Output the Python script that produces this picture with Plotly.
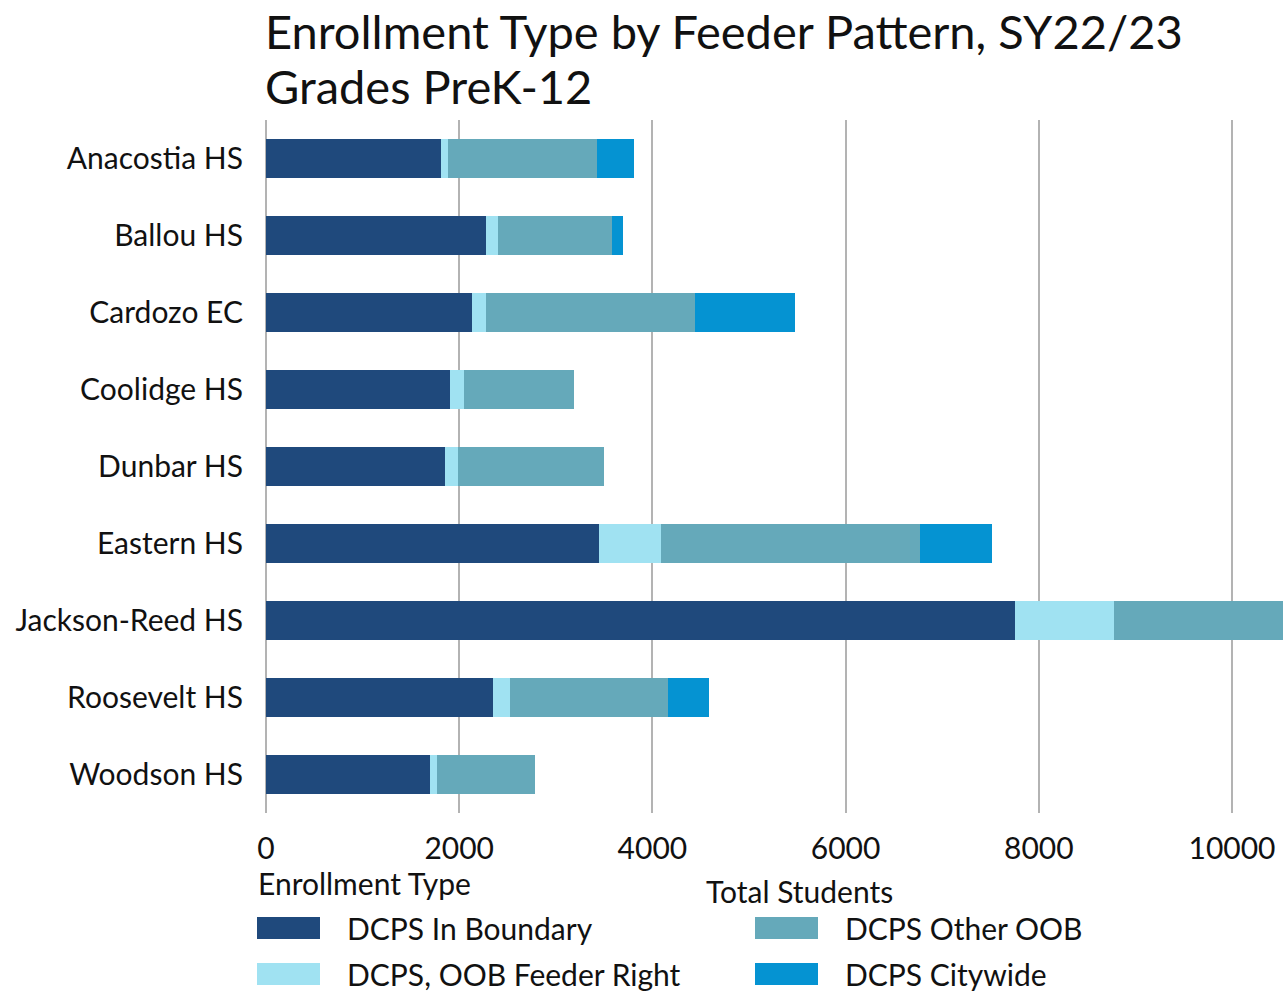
import plotly.graph_objects as go

schools = ["Anacostia HS", "Ballou HS", "Cardozo EC", "Coolidge HS", "Dunbar HS",
           "Eastern HS", "Jackson-Reed HS", "Roosevelt HS", "Woodson HS"]
in_boundary = [1810, 2280, 2135, 1900, 1850, 3450, 7750, 2350, 1700]
oob_feeder_right = [75, 120, 140, 150, 135, 640, 1025, 175, 65]
other_oob = [1540, 1180, 2170, 1140, 1510, 2680, 1755, 1635, 1020]
citywide = [385, 115, 1035, 0, 0, 745, 0, 430, 0]

series_names = ["DCPS In Boundary", "DCPS, OOB Feeder Right", "DCPS Other OOB", "DCPS Citywide"]
series_values = [in_boundary, oob_feeder_right, other_oob, citywide]
series_colors = ["#1F497C", "#A0E2F2", "#65A9BA", "#0593D2"]
title_lines = ["Enrollment Type by Feeder Pattern, SY22/23", "Grades PreK-12"]

FONT = "Lato"
W, H = 1288, 991
L, R, T, B = 266, 0, 120, 178
pw, ph = W - L - R, H - T - B

fig = go.Figure()
for name, vals, col in zip(series_names, series_values, series_colors):
    fig.add_trace(go.Bar(
        y=schools, x=vals, name=name, orientation="h",
        marker=dict(color=col, line=dict(width=0)),
        width=0.5, showlegend=False,
    ))

def px_x(px):
    return (px - L) / pw

def px_y(py):
    return (H - B - py) / ph

annotations = []
for line, cy in zip(title_lines, [31, 86]):
    annotations.append(dict(text=line, x=px_x(263), y=px_y(cy), xref="paper", yref="paper",
                            xanchor="left", yanchor="middle", showarrow=False,
                            font=dict(family=FONT, size=47, color="#111")))
annotations += [
    dict(text="Enrollment Type", x=px_x(256), y=px_y(883), xref="paper", yref="paper",
         xanchor="left", yanchor="middle", showarrow=False,
         font=dict(family=FONT, size=30, color="#111")),
    dict(text="Total Students", x=px_x(799), y=px_y(891), xref="paper", yref="paper",
         xanchor="center", yanchor="middle", showarrow=False,
         font=dict(family=FONT, size=30, color="#111")),
]
shapes = []
# legend layout: row1 = In Boundary, Other OOB ; row2 = Feeder Right, Citywide
legend_pos = {0: (257, 928), 2: (755, 928), 1: (257, 974), 3: (755, 974)}
for i, (name, col) in enumerate(zip(series_names, series_colors)):
    sx, sy = legend_pos[i]
    shapes.append(dict(type="rect", xref="paper", yref="paper",
                       x0=px_x(sx), x1=px_x(sx + 63), y0=px_y(sy + 11), y1=px_y(sy - 11),
                       fillcolor=col, line=dict(width=0)))
    annotations.append(dict(text=name, x=px_x(sx + 88), y=px_y(sy), xref="paper", yref="paper",
                            xanchor="left", yanchor="middle", showarrow=False,
                            font=dict(family=FONT, size=30, color="#111")))

fig.update_layout(
    barmode="stack",
    width=W, height=H,
    margin=dict(l=L, r=R, t=T, b=B),
    paper_bgcolor="white", plot_bgcolor="white",
    xaxis=dict(range=[0, pw / 0.0966], tickvals=[0, 2000, 4000, 6000, 8000, 10000],
               ticktext=["0", "2000", "4000", "6000", "8000", "10000"],
               showgrid=True, gridcolor="#B3B3B3", gridwidth=2,
               zeroline=True, zerolinecolor="#B3B3B3", zerolinewidth=2,
               tickfont=dict(family=FONT, size=30, color="#111"),
               ticks="", ticklabelstandoff=15, fixedrange=True),
    yaxis=dict(categoryorder="array", categoryarray=schools, autorange="reversed",
               tickfont=dict(family=FONT, size=30, color="#111"),
               showgrid=False, ticks="", ticklabelstandoff=22, fixedrange=True),
    annotations=annotations,
    shapes=shapes,
    showlegend=False,
)

fig.write_html("out.html", config={"displayModeBar": False},
               post_script="document.body.style.margin='0';document.body.style.overflow='hidden';")
